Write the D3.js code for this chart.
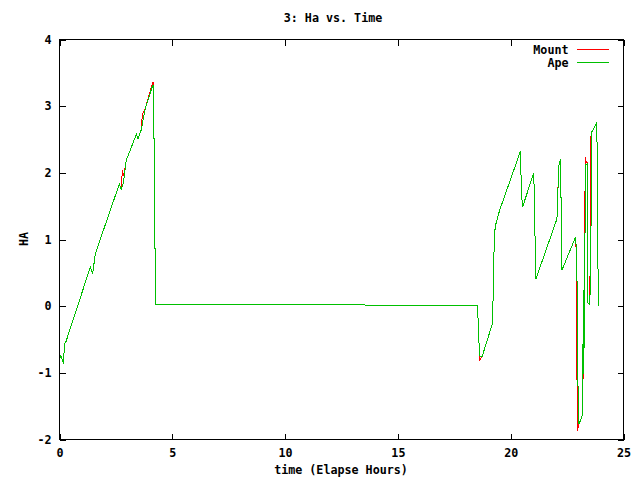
<!DOCTYPE html>
<html>
<head>
<meta charset="utf-8">
<script src="https://cdn.jsdelivr.net/npm/d3@7"></script>
<style>
  html, body { margin: 0; padding: 0; background: #fff; }
  svg text { font-family: "DejaVu Sans Mono", "Liberation Mono", monospace; font-weight: bold; font-size: 11.7px; fill: #000; }
</style>
</head>
<body>
<svg id="chart" width="640" height="480"></svg>
<script>
// ---- data ----
const titleText = "3: Ha vs. Time";
const xLabel = "time (Elapse Hours)";
const yLabel = "HA";
const seriesNames = ["Mount", "Ape"];
const seriesColors = ["#ff0000", "#00c000"];
const xTicks = [0, 5, 10, 15, 20, 25];
const yTicks = [-2, -1, 0, 1, 2, 3, 4];

const timeH = [0.00, 0.06, 0.13, 0.18, 0.22, 0.27, 1.37, 1.47, 1.55, 1.59, 2.65, 2.73, 2.79, 2.85, 2.96,
  3.41, 3.48, 3.63, 3.67, 3.76, 3.82, 4.13, 4.17, 4.18, 4.21, 4.22, 4.25, 4.26, 11.80, 18.53,
  18.55, 18.60, 18.62, 18.64, 18.73, 19.19, 19.22, 19.26, 19.31, 19.51, 20.44, 20.47, 20.53, 21.02, 21.05,
  21.09, 21.12, 22.05, 22.07, 22.11, 22.14, 22.21, 22.24, 22.27, 22.88, 22.90, 22.92, 22.94, 22.96, 23.02,
  23.05, 23.13, 23.20, 23.21, 23.24, 23.26, 23.28, 23.31, 23.33, 23.41, 23.42, 23.50, 23.54, 23.55, 23.58,
  23.60, 23.64, 23.76, 23.82, 23.86, 23.91];

const mountHA = [-0.79, -0.74, -0.81, -0.86, -0.56, -0.55, 0.59, 0.49, 0.69, 0.79, 1.83, 1.75, 2.04, 1.95, 2.19,
  2.58, 2.51, 2.65, 2.88, 2.93, 2.99, 3.35, 3.35, 2.51, 2.51, 0.86, 0.86, 0.02, 0.02, 0.01,
  -0.17, -0.59, -0.82, -0.80, -0.76, -0.26, 0.12, 0.81, 1.19, 1.44, 2.33, 1.71, 1.49, 2.00, 1.61,
  0.81, 0.41, 1.31, 1.51, 1.92, 2.11, 2.20, 1.36, 0.54, 1.04, 0.83, 0.34, -1.14, -1.87, -1.78,
  -1.75, -1.68, -1.62, -0.67, -1.01, 0.24, 1.26, 2.23, 2.18, 2.14, 0.05, 0.02, 1.10, 2.55, 2.57,
  2.62, 2.64, 2.72, 2.76, 0.69, 0.00];

const apeHA = [-0.79, -0.74, -0.81, -0.86, -0.56, -0.55, 0.59, 0.49, 0.69, 0.79, 1.83, 1.75, 1.80, 1.89, 2.19,
  2.58, 2.51, 2.65, 2.73, 2.89, 2.99, 3.31, 3.31, 2.51, 2.51, 0.86, 0.86, 0.02, 0.02, 0.01,
  -0.17, -0.59, -0.62, -0.75, -0.76, -0.26, 0.12, 0.81, 1.19, 1.44, 2.33, 1.71, 1.49, 2.00, 1.61,
  0.81, 0.41, 1.31, 1.51, 1.89, 2.11, 2.20, 1.36, 0.54, 1.04, 0.90, 0.60, 0.38, -0.82, -1.76,
  -1.75, -1.68, -1.62, 0.24, -1.01, -0.23, 0.55, 1.73, 2.12, 2.14, 0.05, 0.02, 0.38, 1.20, 1.22,
  2.62, 2.64, 2.72, 2.76, 0.69, 0.00];

// ---- layout ----
const plotL = 59, plotR = 623, plotT = 39, plotB = 439;

const svg = d3.select("#chart");
const x = d3.scaleLinear().domain([0, 25]).range([plotL, plotR]);
const y = d3.scaleLinear().domain([-2, 4]).range([plotB, plotT]);

const g = svg.append("g").attr("transform", "translate(0.5,0.5)");

// ticks (inward, mirrored)
const tickLen = 6;
const fmt = d => String(d);
const xAxisB = d3.axisBottom(x).tickValues(xTicks).tickFormat(fmt).tickSizeInner(-tickLen).tickSizeOuter(0).tickPadding(9);
const xAxisT = d3.axisTop(x).tickValues(xTicks).tickSizeInner(-tickLen).tickSizeOuter(0).tickFormat("");
const yAxisL = d3.axisLeft(y).tickValues(yTicks).tickFormat(fmt).tickSizeInner(-tickLen).tickSizeOuter(0).tickPadding(8);
const yAxisR = d3.axisRight(y).tickValues(yTicks).tickSizeInner(-tickLen).tickSizeOuter(0).tickFormat("");

function styleAxis(sel) {
  sel.select(".domain").remove();
  sel.selectAll("line").attr("stroke", "#000").attr("shape-rendering", "crispEdges");
  sel.selectAll("text").style("fill", "#000");
  sel.attr("font-family", null).attr("font-size", null);
}

g.append("g").attr("transform", `translate(0,${plotB})`).call(xAxisB).call(styleAxis);
g.append("g").attr("transform", `translate(0,${plotT})`).call(xAxisT).call(styleAxis);
g.append("g").attr("transform", `translate(${plotL},0)`).call(yAxisL).call(styleAxis);
g.append("g").attr("transform", `translate(${plotR},0)`).call(yAxisR).call(styleAxis);

// series lines
const series = [
  { name: seriesNames[0], color: seriesColors[0], vals: mountHA },
  { name: seriesNames[1], color: seriesColors[1], vals: apeHA }
];
const line = d3.line().x(d => x(d[0])).y(d => y(d[1]));
series.forEach(s => {
  const pts = timeH.map((t, i) => [t, s.vals[i]]);
  g.append("path")
    .attr("d", line(pts))
    .attr("fill", "none")
    .attr("stroke", s.color)
    .attr("stroke-width", 1)
    .attr("shape-rendering", "crispEdges");
});

// border
g.append("rect")
  .attr("x", plotL).attr("y", plotT)
  .attr("width", plotR - plotL).attr("height", plotB - plotT)
  .attr("fill", "none").attr("stroke", "#000").attr("shape-rendering", "crispEdges");

// legend
const legX2 = 608, legX1 = 576, legTextX = 568;
series.forEach((s, i) => {
  const ly = 49 + i * 13;
  g.append("text").attr("x", legTextX).attr("y", ly).attr("dy", "0.35em")
    .attr("text-anchor", "end").text(s.name);
  g.append("line").attr("x1", legX1).attr("x2", legX2).attr("y1", ly).attr("y2", ly)
    .attr("stroke", s.color).attr("shape-rendering", "crispEdges");
});

// title & labels
svg.append("text").attr("x", 333).attr("y", 18).attr("dy", "0.35em")
  .attr("text-anchor", "middle").text(titleText);
svg.append("text").attr("x", 341).attr("y", 470).attr("dy", "0.35em")
  .attr("text-anchor", "middle").text(xLabel);
svg.append("text").attr("transform", "translate(24,239) rotate(-90)").attr("dy", "0.35em")
  .attr("text-anchor", "middle").text(yLabel);
</script>
</body>
</html>
